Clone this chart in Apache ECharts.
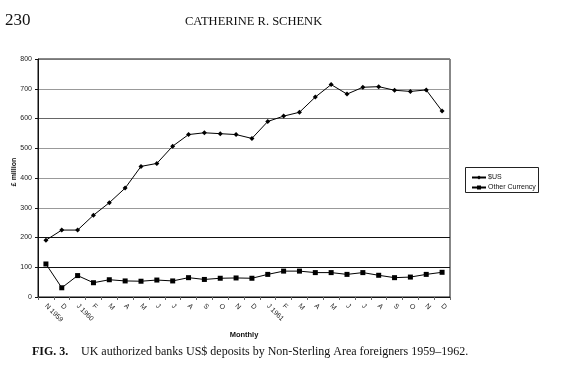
<!DOCTYPE html>
<html>
<head>
<meta charset="utf-8">
<script src="https://cdn.jsdelivr.net/npm/echarts@6/dist/echarts.min.js"></script>
<style>
html,body{margin:0;padding:0;background:#fff;}
#c{width:565px;height:377px;}
</style>
</head>
<body>
<div id="c"></div>
<script>
const categories = ["N 1959","D","J 1960","F","M","A","M","J","J","A","S","O","N","D","J 1961","F","M","A","M","J","J","A","S","O","N","D"];
const usd = [191,225,225,275,317,366,439,449,507,546,552,549,546,533,590,608,621,672,714,682,705,707,695,691,696,625];
const other = [111,31,72,48,58,54,53,57,54,65,59,63,64,63,76,87,87,82,82,76,82,73,65,67,76,83];
const seriesNames = ["$US","Other Currency"];
const yTicks = [0,100,200,300,400,500,600,700,800];

const chart = echarts.init(document.getElementById('c'), null, {renderer:'canvas'});
const serif = '"Liberation Serif","Times New Roman",serif';
const sans = '"Liberation Sans",Arial,sans-serif';
chart.setOption({
  animation:false,
  backgroundColor:'#fff',
  graphic:[
    {type:'text', left:5, top:12, style:{text:'230', font:'17px '+serif, fill:'#111'}},
    {type:'text', left:185, top:15, style:{text:'CATHERINE R. SCHENK', font:'12.5px '+serif, fill:'#111'}},
    {type:'text', left:32, top:346, style:{text:'FIG. 3.', font:'bold 12px '+serif, fill:'#111'}},
    {type:'text', left:81, top:346, style:{text:'UK authorized banks US$ deposits by Non-Sterling Area foreigners 1959\u20131962.', font:'12px '+serif, fill:'#111'}},
    {type:'text', x:14, y:172, rotation:Math.PI/2, style:{text:'\u00a3 million', font:'bold 7px '+sans, fill:'#111', textAlign:'center', textVerticalAlign:'middle'}},
    {type:'rect', left:465, top:167, shape:{width:73, height:25}, style:{fill:'#fff', stroke:'#222', lineWidth:1}}
  ],
  grid:{left:38, right:115, top:59, bottom:80, show:true, borderColor:'#111', borderWidth:1, backgroundColor:'transparent'},
  legend:{
    orient:'vertical', left:466, top:169, itemGap:3, itemWidth:14, itemHeight:5,
    textStyle:{fontSize:7, fontFamily:sans, color:'#111', padding:[0,0,0,-3]},
    data:[seriesNames[0], seriesNames[1]]
  },
  xAxis:{
    type:'category', data:categories, boundaryGap:true,
    name:'Monthly', nameLocation:'middle', nameGap:33,
    nameTextStyle:{fontSize:7.5, fontWeight:'bold', fontFamily:sans, color:'#111'},
    axisLine:{lineStyle:{color:'#111', width:1}},
    axisTick:{show:true, length:3, lineStyle:{color:'#666'}},
    axisLabel:{rotate:-45, fontSize:7, fontFamily:sans, color:'#222', margin:8, interval:0}
  },
  yAxis:{
    type:'value', min:yTicks[0], max:yTicks[yTicks.length-1], interval:100,
    axisLine:{show:true, lineStyle:{color:'#111'}},
    axisTick:{show:true, length:3, lineStyle:{color:'#111'}},
    axisLabel:{fontSize:7, fontFamily:sans, color:'#222', margin:6},
    splitLine:{show:true, lineStyle:{color:['#111','#111','#111','#999','#999','#999','#666','#999','#777'], width:1.2}}
  },
  series:[
    {name:seriesNames[0], type:'line', data:usd, symbol:'diamond', symbolSize:5,
     itemStyle:{color:'#000'}, lineStyle:{color:'#000', width:1}},
    {name:seriesNames[1], type:'line', data:other, symbol:'rect', symbolSize:5,
     itemStyle:{color:'#000'}, lineStyle:{color:'#000', width:1}}
  ]
});
</script>
</body>
</html>
